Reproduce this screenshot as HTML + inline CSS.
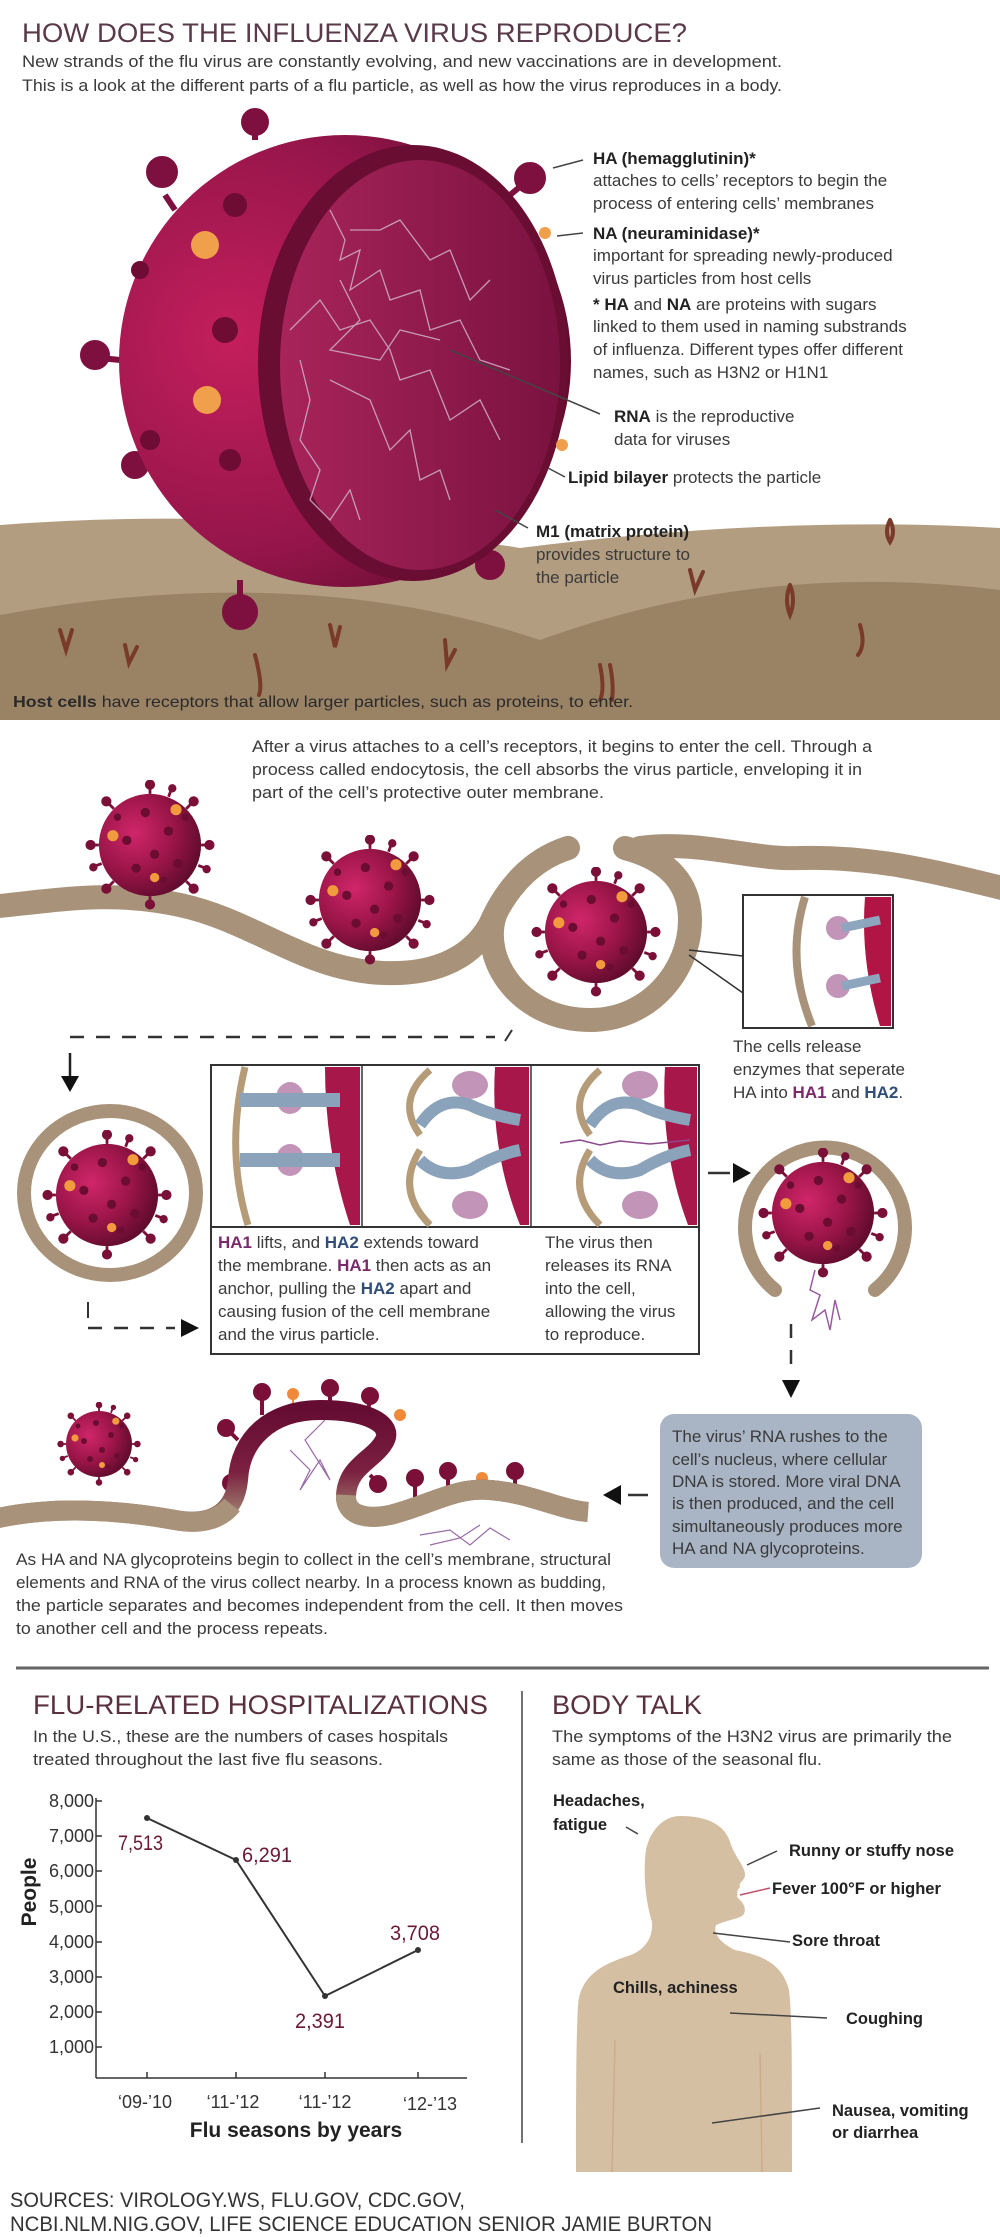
<!DOCTYPE html>
<html><head><meta charset="utf-8"><style>
html,body{margin:0;padding:0;background:#fff;}
svg{display:block;}
text{font-family:"Liberation Sans",sans-serif;}
.t{font-size:17px;fill:#3a3a3a;}
.b{font-weight:bold;fill:#222;}
</style></head><body>
<svg width="1000" height="2237" viewBox="0 0 1000 2237" xmlns="http://www.w3.org/2000/svg">
<defs>
<radialGradient id="vg" cx="0.35" cy="0.38" r="0.7">
<stop offset="0" stop-color="#d0266a"/><stop offset="0.55" stop-color="#9b1548"/><stop offset="1" stop-color="#5c0b2b"/>
</radialGradient>
<radialGradient id="big" cx="0.25" cy="0.45" r="0.8">
<stop offset="0" stop-color="#c41f5c"/><stop offset="0.6" stop-color="#94154a"/><stop offset="1" stop-color="#5a0b2b"/>
</radialGradient>
<linearGradient id="face" x1="0" y1="0" x2="1" y2="0">
<stop offset="0" stop-color="#a8245a"/><stop offset="1" stop-color="#7a1240"/>
</linearGradient>
<linearGradient id="bud" x1="0" y1="0" x2="0" y2="1">
<stop offset="0" stop-color="#650c32"/><stop offset="0.55" stop-color="#7b2040"/><stop offset="1" stop-color="#a48f76"/>
</linearGradient>
<symbol id="vir" viewBox="-70 -70 140 140">
<g stroke="#7a1038" stroke-width="3" fill="#7a1038">
<line x1="0" y1="-55" x2="0" y2="-64"/><circle cx="0" cy="-65" r="4"/>
<line x1="39" y1="-39" x2="46" y2="-46"/><circle cx="47" cy="-47" r="4"/>
<line x1="55" y1="0" x2="63" y2="0"/><circle cx="64" cy="0" r="4"/>
<line x1="39" y1="39" x2="46" y2="46"/><circle cx="47" cy="47" r="4"/>
<line x1="0" y1="55" x2="0" y2="63"/><circle cx="0" cy="64" r="4"/>
<line x1="-39" y1="39" x2="-46" y2="46"/><circle cx="-47" cy="47" r="4"/>
<line x1="-55" y1="0" x2="-63" y2="0"/><circle cx="-64" cy="0" r="4"/>
<line x1="-39" y1="-39" x2="-46" y2="-46"/><circle cx="-47" cy="-47" r="4"/>
<line x1="20" y1="-52" x2="23" y2="-60"/><circle cx="24" cy="-61" r="3"/>
<line x1="-52" y1="20" x2="-60" y2="23"/><circle cx="-61" cy="24" r="3"/>
<line x1="52" y1="22" x2="60" y2="25"/><circle cx="61" cy="26" r="3"/>
</g>
<circle r="55" fill="url(#vg)"/>
<g fill="#6a0d30">
<circle cx="-5" cy="-35" r="5"/><circle cx="20" cy="-15" r="5"/><circle cx="-25" cy="-5" r="5"/><circle cx="5" cy="10" r="5"/><circle cx="-15" cy="25" r="5"/><circle cx="30" cy="20" r="5"/><circle cx="15" cy="38" r="4"/><circle cx="-35" cy="-30" r="4"/><circle cx="38" cy="-30" r="4"/>
</g>
<g fill="#f19a3e"><circle cx="28" cy="-38" r="6"/><circle cx="-40" cy="-10" r="6"/><circle cx="5" cy="35" r="5"/></g>
</symbol>
</defs>

<!-- TITLE -->
<text x="22" y="42" font-size="27" fill="#5a3a4a" textLength="665" lengthAdjust="spacingAndGlyphs">HOW DOES THE INFLUENZA VIRUS REPRODUCE?</text>
<text x="22" y="67" class="t" textLength="760" lengthAdjust="spacingAndGlyphs">New strands of the flu virus are constantly evolving, and new vaccinations are in development.</text>
<text x="22" y="91" class="t" textLength="760" lengthAdjust="spacingAndGlyphs">This is a look at the different parts of a flu particle, as well as how the virus reproduces in a body.</text>

<!-- GROUND -->
<path d="M0,525 Q260,505 520,548 Q780,515 1000,528 V720 H0Z" fill="#b29d81"/>
<path d="M0,615 Q300,560 540,640 Q760,560 1000,590 V720 H0Z" fill="#9a8265"/>
<g stroke="#7a3a2a" stroke-width="4" fill="none" stroke-linecap="round">
<path d="M60,630 l6,20 l6,-20"/><path d="M125,645 l4,18 l8,-16"/><path d="M255,655 q8,30 4,40"/><path d="M330,625 l5,22 l5,-20"/><path d="M445,640 l2,25 l8,-15"/>
<path d="M600,665 q5,25 0,35 M610,665 q4,20 2,35"/><path d="M690,570 l5,20 l8,-18"/><path d="M790,585 q-6,15 0,30 q6,-15 0,-30"/><path d="M860,625 q6,20 -2,30"/><path d="M890,520 q6,12 0,22 q-6,-10 0,-22"/><path d="M395,560 l3,14 l4,-12"/>
</g>
<text x="13" y="707" font-size="16" fill="#2a2a2a" textLength="620" lengthAdjust="spacingAndGlyphs"><tspan font-weight="bold">Host cells</tspan> have receptors that allow larger particles, such as proteins, to enter.</text>

<!-- BIG VIRUS spikes -->
<g fill="#7e1040" stroke="#7e1040" stroke-width="6">
<line x1="255" y1="140" x2="255" y2="125"/><circle cx="255" cy="122" r="11"/>
<line x1="175" y1="210" x2="165" y2="195"/><circle cx="162" cy="172" r="13"/>
<line x1="120" y1="360" x2="100" y2="358"/><circle cx="95" cy="355" r="12"/>
<line x1="140" y1="470" x2="130" y2="475"/><circle cx="135" cy="465" r="11"/>
<line x1="240" y1="580" x2="240" y2="600"/><circle cx="240" cy="612" r="15"/>
<line x1="470" y1="545" x2="485" y2="560"/><circle cx="490" cy="565" r="12"/>
<line x1="510" y1="195" x2="522" y2="185"/><circle cx="530" cy="178" r="13"/>
</g>
<circle cx="345" cy="361" r="226" fill="url(#big)"/>
<ellipse cx="413" cy="363" rx="155" ry="218" fill="#6a0d32"/>
<ellipse cx="420" cy="365" rx="140" ry="205" fill="url(#face)"/>
<g fill="#6e0c33">
<circle cx="235" cy="205" r="12"/><circle cx="225" cy="330" r="13"/><circle cx="230" cy="460" r="11"/><circle cx="140" cy="270" r="9"/><circle cx="150" cy="440" r="10"/>
</g>
<g fill="#f0a04a"><circle cx="205" cy="245" r="14"/><circle cx="207" cy="400" r="14"/><circle cx="545" cy="233" r="6"/><circle cx="562" cy="445" r="6"/></g>
<g stroke="#c79ab8" stroke-width="1.3" fill="none">
<polyline points="330,210 345,240 340,260 360,250 350,290 380,270 390,300 420,290 430,330 460,320 480,360 510,370"/>
<polyline points="290,330 320,300 340,330 370,320 390,350 400,380 430,370 450,420 480,400 500,440"/>
<polyline points="300,360 310,400 300,440 320,470 310,500 330,520 350,490 360,520"/>
<polyline points="350,230 380,230 400,220 430,260 450,250 470,300 490,280"/>
<polyline points="330,380 370,400 390,450 410,430 420,480 440,470 450,500"/>
<polyline points="340,280 360,320 330,350 380,360 400,330 440,340"/>
</g>
<!-- right labels -->
<g stroke="#444" stroke-width="1.5">
<line x1="553" y1="168" x2="583" y2="160"/><line x1="557" y1="236" x2="583" y2="233"/>
<line x1="450" y1="350" x2="600" y2="414"/><line x1="548" y1="468" x2="565" y2="477"/><line x1="495" y1="510" x2="528" y2="528"/>
</g>
<text x="593" y="164" class="t"><tspan class="b">HA (hemagglutinin)*</tspan></text>
<text x="593" y="186" class="t">attaches to cells’ receptors to begin the</text>
<text x="593" y="209" class="t">process of entering cells’ membranes</text>
<text x="593" y="239" class="t"><tspan class="b">NA (neuraminidase)*</tspan></text>
<text x="593" y="261" class="t">important for spreading newly-produced</text>
<text x="593" y="284" class="t">virus particles from host cells</text>
<text x="593" y="310" class="t"><tspan class="b">* HA</tspan> and <tspan class="b">NA</tspan> are proteins with sugars</text>
<text x="593" y="332" class="t">linked to them used in naming substrands</text>
<text x="593" y="355" class="t">of influenza. Different types offer different</text>
<text x="593" y="378" class="t">names, such as H3N2 or H1N1</text>
<text x="614" y="422" class="t"><tspan class="b">RNA</tspan> is the reproductive</text>
<text x="614" y="445" class="t">data for viruses</text>
<text x="568" y="483" class="t"><tspan class="b">Lipid bilayer</tspan> protects the particle</text>
<text x="536" y="537" class="t"><tspan class="b">M1 (matrix protein)</tspan></text>
<text x="536" y="560" class="t">provides structure to</text>
<text x="536" y="583" class="t">the particle</text>

<!-- SECTION 2 text -->
<text x="252" y="752" class="t" textLength="620" lengthAdjust="spacingAndGlyphs">After a virus attaches to a cell’s receptors, it begins to enter the cell. Through a</text>
<text x="252" y="775" class="t" textLength="610" lengthAdjust="spacingAndGlyphs">process called endocytosis, the cell absorbs the virus particle, enveloping it in</text>
<text x="252" y="798" class="t" textLength="352" lengthAdjust="spacingAndGlyphs">part of the cell’s protective outer membrane.</text>

<!-- membrane -->
<g stroke="#a8937a" stroke-width="24" fill="none" stroke-linecap="round">
<path d="M-10,907 C60,900 110,890 180,905 C250,920 300,965 370,972 C430,978 470,960 490,925 C505,890 530,860 568,848"/>
<path d="M495,915 C480,960 520,1020 590,1020 C650,1020 690,970 690,920 C690,885 670,860 625,848"/>
<path d="M640,848 C700,840 750,860 800,858 C870,856 930,870 1010,890"/>
</g>
<use href="#vir" x="85" y="780" width="130" height="130"/>
<use href="#vir" x="305" y="835" width="130" height="130"/>
<use href="#vir" x="531" y="867" width="130" height="130"/>
<!-- zoom box -->
<g stroke="#333" stroke-width="1.5" fill="none"><line x1="689" y1="950" x2="743" y2="956"/><line x1="689" y1="955" x2="743" y2="993"/></g>
<rect x="743" y="895" width="150" height="133" fill="#fff" stroke="#333" stroke-width="2"/>
<path d="M865,897 L891,897 L891,1026 L880,1026 Q860,960 865,897Z" fill="#b01546"/>
<path d="M805,897 Q785,960 812,1026" stroke="#a8937a" stroke-width="8" fill="none"/>
<g fill="#c294b8"><circle cx="838" cy="928" r="12"/><circle cx="838" cy="986" r="12"/></g>
<g stroke="#8ea6bd" stroke-width="9"><line x1="842" y1="928" x2="880" y2="920"/><line x1="842" y1="986" x2="880" y2="978"/></g>
<text x="733" y="1052" class="t">The cells release</text>
<text x="733" y="1075" class="t">enzymes that seperate</text>
<text x="733" y="1098" class="t">HA into <tspan font-weight="bold" fill="#7a2a6a">HA1</tspan> and <tspan font-weight="bold" fill="#2f4d78">HA2</tspan>.</text>

<!-- dashed top -->
<line x1="70" y1="1037" x2="495" y2="1037" stroke="#333" stroke-width="2.5" stroke-dasharray="14,12"/>
<line x1="505" y1="1041" x2="512" y2="1030" stroke="#333" stroke-width="2"/>
<line x1="70" y1="1053" x2="70" y2="1078" stroke="#222" stroke-width="2.5"/>
<polygon points="61,1076 79,1076 70,1092" fill="#111"/>

<!-- left ring -->
<ellipse cx="110" cy="1193" rx="86" ry="82" fill="none" stroke="#a8937a" stroke-width="14"/>
<use href="#vir" x="42" y="1130" width="130" height="130"/>
<line x1="88" y1="1302" x2="88" y2="1318" stroke="#333" stroke-width="2"/>
<line x1="88" y1="1328" x2="175" y2="1328" stroke="#333" stroke-width="2.5" stroke-dasharray="14,12"/>
<polygon points="181,1319 199,1328 181,1337" fill="#111"/>

<!-- three panels box -->
<rect x="211" y="1065" width="488" height="289" fill="#fff" stroke="#333" stroke-width="2"/>
<line x1="211" y1="1227" x2="699" y2="1227" stroke="#333" stroke-width="2"/>
<line x1="362" y1="1065" x2="362" y2="1227" stroke="#333" stroke-width="1.5"/>
<line x1="531" y1="1065" x2="531" y2="1227" stroke="#333" stroke-width="1.5"/>
<path d="M325,1067 L360,1067 L360,1225 L350,1225 Q325,1150 325,1067Z" fill="#a8174a"/>
<path d="M245,1067 Q225,1150 248,1225" stroke="#b59b78" stroke-width="7" fill="none"/>
<g fill="#c294b8"><ellipse cx="290" cy="1098" rx="14" ry="16"/><ellipse cx="290" cy="1160" rx="14" ry="16"/></g>
<g stroke="#8aa2ba" stroke-width="14"><line x1="240" y1="1100" x2="340" y2="1100"/><line x1="240" y1="1160" x2="340" y2="1160"/></g>
<path d="M495,1067 L529,1067 L529,1225 L520,1225 Q490,1150 495,1067Z" fill="#a8174a"/>
<path d="M430,1070 Q395,1100 420,1135 M420,1150 Q395,1190 430,1225" stroke="#b59b78" stroke-width="7" fill="none"/>
<g fill="#c294b8"><ellipse cx="470" cy="1085" rx="18" ry="14"/><ellipse cx="470" cy="1205" rx="18" ry="14"/></g>
<g stroke="#8aa2ba" stroke-width="12" fill="none"><path d="M420,1125 Q440,1095 470,1105 Q490,1115 520,1120"/><path d="M420,1160 Q440,1180 470,1170 Q495,1155 520,1150"/></g>
<path d="M665,1067 L697,1067 L697,1225 L688,1225 Q660,1150 665,1067Z" fill="#a8174a"/>
<path d="M600,1070 Q565,1100 590,1135 M590,1150 Q565,1190 600,1225" stroke="#b59b78" stroke-width="7" fill="none"/>
<g fill="#c294b8"><ellipse cx="640" cy="1085" rx="18" ry="14"/><ellipse cx="640" cy="1205" rx="18" ry="14"/></g>
<g stroke="#8aa2ba" stroke-width="12" fill="none"><path d="M590,1125 Q610,1095 640,1105 Q660,1115 690,1120"/><path d="M590,1160 Q610,1180 640,1170 Q665,1155 690,1150"/></g>
<polyline points="560,1143 580,1140 600,1145 620,1141 650,1144 690,1140" stroke="#8a4a8a" stroke-width="1.5" fill="none"/>
<text x="218" y="1248" class="t"><tspan font-weight="bold" fill="#7a2a6a">HA1</tspan> lifts, and <tspan font-weight="bold" fill="#2f4d78">HA2</tspan> extends toward</text>
<text x="218" y="1271" class="t">the membrane. <tspan font-weight="bold" fill="#7a2a6a">HA1</tspan> then acts as an</text>
<text x="218" y="1294" class="t">anchor, pulling the <tspan font-weight="bold" fill="#2f4d78">HA2</tspan> apart and</text>
<text x="218" y="1317" class="t">causing fusion of the cell membrane</text>
<text x="218" y="1340" class="t">and the virus particle.</text>
<text x="545" y="1248" class="t">The virus then</text>
<text x="545" y="1271" class="t">releases its RNA</text>
<text x="545" y="1294" class="t">into the cell,</text>
<text x="545" y="1317" class="t">allowing the virus</text>
<text x="545" y="1340" class="t">to reproduce.</text>

<!-- arrow right -->
<line x1="708" y1="1173" x2="730" y2="1173" stroke="#333" stroke-width="2.5"/>
<polygon points="733,1163 751,1173 733,1183" fill="#111"/>
<path d="M775,1290 A80,80 0 1 1 875,1290" fill="none" stroke="#a8937a" stroke-width="14" stroke-linecap="round"/>
<use href="#vir" x="758" y="1148" width="130" height="130"/>
<polyline points="815,1270 810,1290 820,1295 812,1320 825,1310 830,1330 835,1300 840,1320" stroke="#9a5aa0" stroke-width="1.5" fill="none"/>
<line x1="791" y1="1324" x2="791" y2="1370" stroke="#333" stroke-width="2.5" stroke-dasharray="14,12"/>
<polygon points="782,1380 800,1380 791,1398" fill="#111"/>

<!-- blue box -->
<rect x="660" y="1414" width="262" height="154" rx="14" fill="#a9b5c4"/>
<text x="672" y="1442" class="t" fill="#2c2c2c">The virus’ RNA rushes to the</text>
<text x="672" y="1465" class="t">cell’s nucleus, where cellular</text>
<text x="672" y="1487" class="t">DNA is stored. More viral DNA</text>
<text x="672" y="1509" class="t">is then produced, and the cell</text>
<text x="672" y="1532" class="t">simultaneously produces more</text>
<text x="672" y="1554" class="t">HA and NA glycoproteins.</text>
<line x1="628" y1="1495" x2="648" y2="1495" stroke="#333" stroke-width="2.5"/>
<polygon points="621,1485 603,1495 621,1505" fill="#111"/>

<!-- budding -->
<use href="#vir" x="57" y="1402" width="84" height="84"/>
<g stroke="#7a1038" stroke-width="4" fill="#7a1038">
<line x1="262" y1="1415" x2="262" y2="1395"/><circle cx="262" cy="1392" r="7"/>
<line x1="330" y1="1408" x2="330" y2="1390"/><circle cx="330" cy="1388" r="7"/>
<line x1="368" y1="1412" x2="370" y2="1398"/><circle cx="370" cy="1396" r="7"/>
<line x1="238" y1="1440" x2="228" y2="1430"/><circle cx="226" cy="1428" r="7"/>
<line x1="240" y1="1480" x2="232" y2="1485"/><circle cx="231" cy="1483" r="7"/>
<line x1="370" y1="1475" x2="378" y2="1483"/><circle cx="378" cy="1484" r="7"/>
<line x1="415" y1="1497" x2="415" y2="1480"/><circle cx="415" cy="1478" r="7"/>
<line x1="448" y1="1490" x2="448" y2="1473"/><circle cx="448" cy="1471" r="7"/>
<line x1="515" y1="1490" x2="515" y2="1473"/><circle cx="515" cy="1471" r="7"/>
</g>
<g fill="#f08a3a" stroke="#f08a3a" stroke-width="2"><line x1="293" y1="1407" x2="293" y2="1395"/><circle cx="293" cy="1394" r="5"/><line x1="482" y1="1488" x2="482" y2="1480"/><circle cx="482" cy="1478" r="5"/><circle cx="400" cy="1415" r="5"/></g>
<path d="M-10,1520 C50,1505 120,1510 175,1520 C215,1527 235,1510 238,1480 C240,1440 270,1410 320,1410 C370,1410 392,1425 385,1440 C375,1460 348,1465 346,1495 C345,1515 365,1520 390,1515 C430,1505 455,1487 490,1490 C530,1493 560,1510 588,1512" stroke="url(#bud)" stroke-width="20" fill="none"/>
<path d="M-10,1520 C50,1505 120,1510 175,1520 C200,1525 220,1520 232,1505" stroke="#a8937a" stroke-width="20" fill="none"/>
<path d="M346,1495 C345,1515 365,1520 390,1515 C430,1505 455,1487 490,1490 C530,1493 560,1510 588,1512" stroke="#a8937a" stroke-width="20" fill="none"/>
<g stroke="#9a6aa8" stroke-width="1.2" fill="none"><polyline points="290,1450 310,1470 300,1490 320,1460 330,1480 305,1440 325,1420"/><polyline points="420,1535 450,1530 470,1545 490,1528 510,1540"/><polyline points="430,1545 460,1538 480,1525"/></g>
<text x="16" y="1565" class="t" textLength="595" lengthAdjust="spacingAndGlyphs">As HA and NA glycoproteins begin to collect in the cell’s membrane, structural</text>
<text x="16" y="1588" class="t" textLength="590" lengthAdjust="spacingAndGlyphs">elements and RNA of the virus collect nearby. In a process known as budding,</text>
<text x="16" y="1611" class="t" textLength="607" lengthAdjust="spacingAndGlyphs">the particle separates and becomes independent from the cell. It then moves</text>
<text x="16" y="1634" class="t" textLength="312" lengthAdjust="spacingAndGlyphs">to another cell and the process repeats.</text>

<!-- divider -->
<line x1="16" y1="1668" x2="989" y2="1668" stroke="#666" stroke-width="3"/>
<line x1="522" y1="1691" x2="522" y2="2143" stroke="#444" stroke-width="1.5"/>

<!-- CHART -->
<text x="33" y="1714" font-size="27" fill="#5a3040" textLength="455" lengthAdjust="spacingAndGlyphs">FLU-RELATED HOSPITALIZATIONS</text>
<text x="33" y="1742" class="t" textLength="415" lengthAdjust="spacingAndGlyphs">In the U.S., these are the numbers of cases hospitals</text>
<text x="33" y="1765" class="t" textLength="350" lengthAdjust="spacingAndGlyphs">treated throughout the last five flu seasons.</text>
<g font-size="18" fill="#333" text-anchor="end">
<text x="94" y="1807">8,000</text><text x="94" y="1842">7,000</text><text x="94" y="1877">6,000</text><text x="94" y="1913">5,000</text><text x="94" y="1948">4,000</text><text x="94" y="1983">3,000</text><text x="94" y="2018">2,000</text><text x="94" y="2053">1,000</text>
</g>
<g stroke="#333" stroke-width="1.5">
<line x1="96" y1="1798" x2="96" y2="2078"/><line x1="96" y1="2078" x2="467" y2="2078"/>
<line x1="96" y1="1801" x2="102" y2="1801"/><line x1="96" y1="1836" x2="102" y2="1836"/><line x1="96" y1="1871" x2="102" y2="1871"/><line x1="96" y1="1906" x2="102" y2="1906"/><line x1="96" y1="1942" x2="102" y2="1942"/><line x1="96" y1="1977" x2="102" y2="1977"/><line x1="96" y1="2012" x2="102" y2="2012"/><line x1="96" y1="2047" x2="102" y2="2047"/>
<line x1="147" y1="2072" x2="147" y2="2078"/><line x1="236" y1="2072" x2="236" y2="2078"/><line x1="325" y1="2072" x2="325" y2="2078"/><line x1="418" y1="2072" x2="418" y2="2078"/>
</g>
<polyline points="147,1818 236,1860 325,1996 418,1950" stroke="#333" stroke-width="2" fill="none"/>
<g fill="#333"><circle cx="147" cy="1818" r="3"/><circle cx="236" cy="1860" r="3"/><circle cx="325" cy="1996" r="3"/><circle cx="418" cy="1950" r="3"/></g>
<g font-size="21" fill="#6b1838">
<text x="118" y="1850" textLength="45" lengthAdjust="spacingAndGlyphs">7,513</text>
<text x="242" y="1862" textLength="50" lengthAdjust="spacingAndGlyphs">6,291</text>
<text x="295" y="2028" textLength="50" lengthAdjust="spacingAndGlyphs">2,391</text>
<text x="390" y="1940" textLength="50" lengthAdjust="spacingAndGlyphs">3,708</text>
</g>
<g font-size="18" fill="#333" text-anchor="middle">
<text x="145" y="2108">‘09-’10</text><text x="233" y="2108">‘11-’12</text><text x="325" y="2108">‘11-’12</text><text x="430" y="2110">‘12-’13</text>
</g>
<text x="296" y="2137" font-size="21" font-weight="bold" fill="#222" text-anchor="middle">Flu seasons by years</text>
<text transform="translate(36,1892) rotate(-90)" font-size="21" font-weight="bold" fill="#222" text-anchor="middle">People</text>

<!-- BODY TALK -->
<text x="552" y="1714" font-size="27" fill="#5a3040" textLength="150" lengthAdjust="spacingAndGlyphs">BODY TALK</text>
<text x="552" y="1742" class="t" textLength="400" lengthAdjust="spacingAndGlyphs">The symptoms of the H3N2 virus are primarily the</text>
<text x="552" y="1765" class="t" textLength="270" lengthAdjust="spacingAndGlyphs">same as those of the seasonal flu.</text>
<path d="M680,1816 C708,1816 726,1825 731,1845 C736,1858 746,1868 745,1876 C744,1881 738,1883 740,1887 C736,1891 738,1894 737,1897 C741,1901 747,1906 744,1914 C740,1919 730,1919 716,1925 C713,1933 720,1943 735,1950 C760,1955 782,1962 789,1990 C792,2015 792,2060 792,2172 L576,2172 C576,2100 576,2040 578,2005 C580,1980 596,1966 628,1956 C646,1950 653,1937 652,1922 C645,1900 643,1870 646,1850 C650,1830 664,1816 680,1816Z" fill="#d5bfa3"/>
<g stroke="#c8ad8d" stroke-width="1.5"><line x1="615" y1="2040" x2="612" y2="2172"/><line x1="760" y1="2053" x2="762" y2="2172"/></g>
<g stroke="#444" stroke-width="1.5">
<line x1="626" y1="1827" x2="638" y2="1834"/><line x1="747" y1="1865" x2="777" y2="1851"/><line x1="713" y1="1933" x2="790" y2="1942"/><line x1="730" y1="2013" x2="827" y2="2018"/><line x1="712" y1="2123" x2="820" y2="2108"/>
</g>
<line x1="740" y1="1895" x2="770" y2="1888" stroke="#c0506a" stroke-width="1.5"/>
<g font-size="16.5" font-weight="bold" fill="#222">
<text x="553" y="1806">Headaches,</text><text x="553" y="1830">fatigue</text>
<text x="789" y="1856">Runny or stuffy nose</text>
<text x="772" y="1894">Fever 100°F or higher</text>
<text x="792" y="1946">Sore throat</text>
<text x="613" y="1993">Chills, achiness</text>
<text x="846" y="2024">Coughing</text>
<text x="832" y="2116">Nausea, vomiting</text>
<text x="832" y="2138">or diarrhea</text>
</g>

<!-- SOURCES -->
<text x="10" y="2207" font-size="21" fill="#333" textLength="455" lengthAdjust="spacingAndGlyphs">SOURCES: VIROLOGY.WS, FLU.GOV, CDC.GOV,</text>
<text x="10" y="2231" font-size="21" fill="#333" textLength="702" lengthAdjust="spacingAndGlyphs">NCBI.NLM.NIG.GOV, LIFE SCIENCE EDUCATION SENIOR JAMIE BURTON</text>
</svg>
</body></html>
